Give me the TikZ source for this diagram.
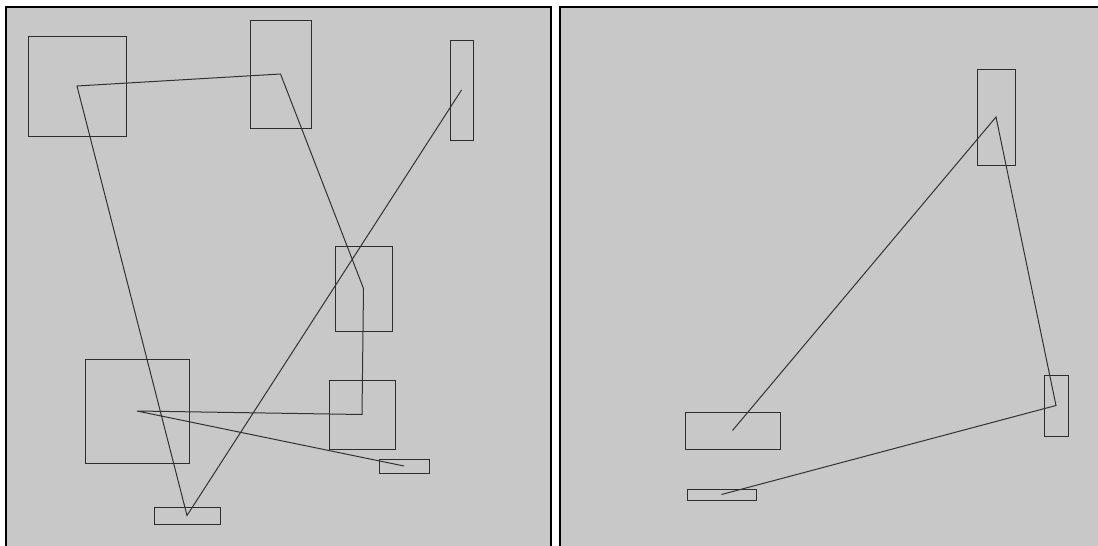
\documentclass[tikz,border=0pt]{standalone}
\begin{document}
\begin{tikzpicture}[x=1pt,y=-1pt,
  panel/.style={draw=black,line width=2pt,fill=panelgray},
  box/.style={draw=boxgray,line width=1pt,inner sep=0pt,outer sep=0pt},
  link/.style={draw=linegray,line width=1pt,line join=miter}]
\definecolor{panelgray}{RGB}{200,200,200}
\definecolor{boxgray}{RGB}{45,45,45}
\definecolor{linegray}{RGB}{50,50,50}
\useasboundingbox (0,0) rectangle (1098,546);
\begin{scope}
\clip (0,0) rectangle (1098,546);
\fill[white] (0,0) rectangle (1098,546);
\draw[panel] (6,7) rectangle (550.5,560);
\draw[panel] (560,7) rectangle (1105,560);
\end{scope}
% left panel boxes
\node[box,minimum width=98pt,minimum height=100pt] (r1) at (77,86) {};
\node[box,minimum width=61pt,minimum height=108pt] (r2) at (280.5,74) {};
\node[box,minimum width=23pt,minimum height=100pt] (r3) at (461.5,90) {};
\node[box,minimum width=57pt,minimum height=85pt] (r4) at (363.5,288.5) {};
\node[box,minimum width=66pt,minimum height=69pt] (r5) at (362,414.5) {};
\node[box,minimum width=104pt,minimum height=104pt] (r6) at (137,411) {};
\node[box,minimum width=50pt,minimum height=14pt] (r7) at (404,466) {};
\node[box,minimum width=66pt,minimum height=17pt] (r8) at (187,515.5) {};
\draw[link] (r3.center) -- (r8.center) -- (r1.center) -- (r2.center) -- (r4.center)
  -- (r5.center) -- (r6.center) -- (r7.center);
% right panel boxes
\node[box,minimum width=38pt,minimum height=96pt] (s1) at (996,117) {};
\node[box,minimum width=24pt,minimum height=61pt] (s2) at (1056,405.5) {};
\node[box,minimum width=95pt,minimum height=37pt] (s3) at (732.5,430.5) {};
\node[box,minimum width=69pt,minimum height=11pt] (s4) at (721.5,494.5) {};
\draw[link] (s3.center) -- (s1.center) -- (s2.center) -- (s4.center);
\end{tikzpicture}
\end{document}
